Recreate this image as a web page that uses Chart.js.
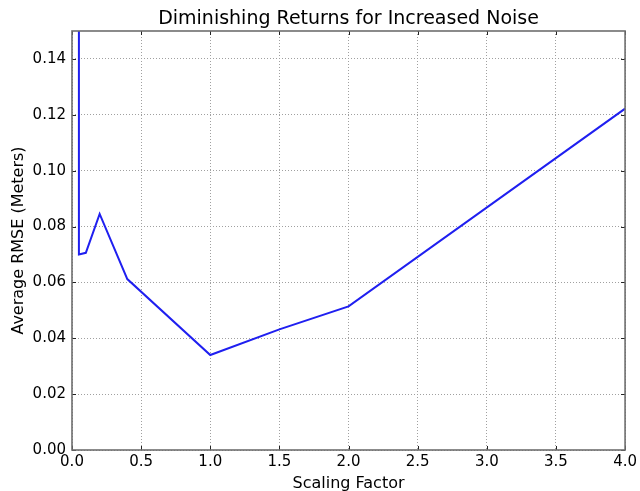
<!DOCTYPE html>
<html>
<head>
<meta charset="utf-8">
<script src="https://cdn.jsdelivr.net/npm/chart.js@4/dist/chart.umd.min.js"></script>
<style>
  html, body { margin: 0; padding: 0; background: #ffffff; }
  #c { display: block; }
</style>
</head>
<body>
<canvas id="c" width="640" height="491"></canvas>
<script>
// Scaling factor applied to the noise, and the resulting average RMSE (meters)
const scalingFactors = [0.05, 0.05, 0.1, 0.2, 0.4, 1.0, 1.5, 2.0, 4.0];
const averageRmse    = [0.35, 0.0700, 0.0706, 0.0845, 0.0612, 0.0340, 0.0432, 0.0514, 0.1222];

// Axis ranges and tick spacing
const xRange = [0, 4];
const xStep = 0.5;
const yRange = [0, 0.15];
const yStep = 0.02;

const FONT = "'DejaVu Sans', Verdana, sans-serif";

// Frame around the plot plus inward-pointing tick marks on all four sides
const frameAndTicks = {
  id: 'frameAndTicks',
  afterDraw(chart) {
    const { ctx, chartArea: a, scales } = chart;
    const len = 4;
    ctx.save();
    ctx.strokeStyle = '#222222';
    ctx.lineWidth = 1;
    ctx.beginPath();
    scales.x.ticks.forEach(t => {
      const px = Math.round(scales.x.getPixelForValue(t.value)) + 0.5;
      ctx.moveTo(px, a.bottom); ctx.lineTo(px, a.bottom - len);
      ctx.moveTo(px, a.top);    ctx.lineTo(px, a.top + len);
    });
    scales.y.ticks.forEach(t => {
      const py = Math.round(scales.y.getPixelForValue(t.value)) + 0.5;
      ctx.moveTo(a.left, py);  ctx.lineTo(a.left + len, py);
      ctx.moveTo(a.right, py); ctx.lineTo(a.right - len, py);
    });
    ctx.stroke();
    ctx.strokeStyle = '#6e6e6e';
    ctx.lineWidth = 1.6;
    ctx.strokeRect(a.left, a.top, a.right - a.left, a.bottom - a.top);
    ctx.restore();
  }
};

const points = scalingFactors.map((x, i) => ({ x: x, y: averageRmse[i] }));

const gridStyle = { color: '#a0a0a0', lineWidth: 1, drawTicks: false };
const borderStyle = { display: false, dash: [1, 2] };

new Chart(document.getElementById('c'), {
  type: 'line',
  data: {
    datasets: [{
      data: points,
      borderColor: '#1f1ff0',
      borderWidth: 2,
      pointRadius: 0,
      tension: 0,
      fill: false
    }]
  },
  options: {
    responsive: false,
    animation: false,
    layout: { padding: { left: 0, right: 13, top: 0, bottom: 0 } },
    plugins: {
      legend: { display: false },
      tooltip: { enabled: false },
      title: {
        display: true,
        text: 'Diminishing Returns for Increased Noise',
        color: '#000000',
        fullSize: false,
        font: { family: FONT, size: 19, weight: 'normal', lineHeight: 1 },
        padding: { top: 9.5, bottom: 2.5 }
      }
    },
    scales: {
      x: {
        type: 'linear',
        min: xRange[0],
        max: xRange[1],
        border: borderStyle,
        grid: gridStyle,
        ticks: {
          stepSize: xStep,
          padding: 3,
          color: '#000000',
          maxRotation: 0,
          font: { family: FONT, size: 15 },
          callback: v => Number(v).toFixed(1)
        },
        title: {
          display: true,
          text: 'Scaling Factor',
          color: '#000000',
          font: { family: FONT, size: 16, lineHeight: 1.2 },
          padding: { top: 0, bottom: -2 }
        },
        afterFit(scale) { scale.height = 41; }
      },
      y: {
        type: 'linear',
        min: yRange[0],
        max: yRange[1],
        border: borderStyle,
        grid: gridStyle,
        ticks: {
          stepSize: yStep,
          includeBounds: false,
          padding: 6,
          color: '#000000',
          font: { family: FONT, size: 15 },
          callback: v => Number(v).toFixed(2)
        },
        title: {
          display: true,
          text: 'Average RMSE (Meters)',
          color: '#000000',
          font: { family: FONT, size: 16, lineHeight: 1.2 },
          padding: { top: 9.4, bottom: 0 }
        },
        afterFit(scale) { scale.width = 72; }
      }
    }
  },
  plugins: [frameAndTicks]
});
</script>
</body>
</html>
